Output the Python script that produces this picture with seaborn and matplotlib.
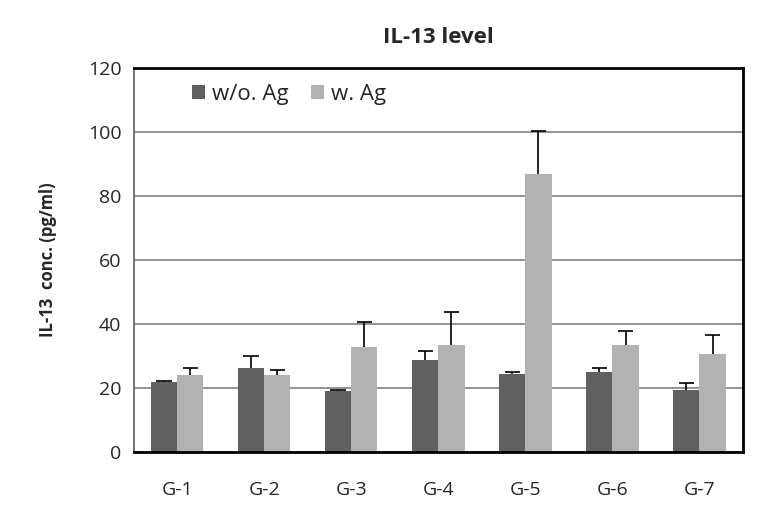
import numpy as np
import pandas as pd
import matplotlib
matplotlib.use("Agg")
import matplotlib.pyplot as plt
import seaborn as sns

groups = ["G-1", "G-2", "G-3", "G-4", "G-5", "G-6", "G-7"]
wo_ag = [21.9, 26.2, 19.1, 28.7, 24.4, 25.0, 19.3]
wo_ag_err = [0.2, 3.8, 0.2, 2.8, 0.5, 1.1, 2.4]
w_ag = [24.0, 24.0, 32.8, 33.4, 87.0, 33.4, 30.6]
w_ag_err = [2.1, 1.5, 7.8, 10.2, 13.2, 4.3, 5.9]
series = ["w/o. Ag", "w. Ag"]

df = pd.DataFrame({
    "group": groups * 2,
    "value": wo_ag + w_ag,
    "series": [series[0]] * len(groups) + [series[1]] * len(groups),
})
errs = np.array(wo_ag_err + w_ag_err)

sns.set_style("white")
plt.rcParams["font.family"] = ["Open Sans", "DejaVu Sans"]

fig = plt.figure(figsize=(7.78, 5.15), dpi=100)
ax = fig.add_axes([0.172, 0.1223, 0.783, 0.7457])

sns.barplot(
    data=df, x="group", y="value", hue="series",
    palette={"w/o. Ag": "#606060", "w. Ag": "#b2b2b2"},
    errorbar=None, width=0.6, saturation=1, linewidth=0, ax=ax,
)

# upper-only error bars (stem + top cap), placed on the drawn bars
bars = [p for p in ax.patches if p.get_height() > 0][: len(errs)]
xs = np.array([b.get_x() + b.get_width() / 2 for b in bars])
hs = np.array([b.get_height() for b in bars])
cap = bars[0].get_width() * 0.3
ax.vlines(xs, hs, hs + errs, color="black", linewidth=1.2, zorder=3)
ax.hlines(hs + errs, xs - cap, xs + cap, color="black", linewidth=1.2, zorder=3)

ax.set_ylim(0, 120)
ax.set_yticks(range(0, 121, 20))
ax.yaxis.grid(True, color="#808080", linewidth=1.2)
ax.set_axisbelow(True)
ax.set_xlim(-0.5, len(groups) - 0.5)

# category boundaries as tick marks, labels centred
ax.set_xticks(np.arange(-0.5, len(groups), 1.0))
ax.set_xticklabels([])
ax.set_xticks(range(len(groups)), minor=True)
ax.set_xticklabels(groups, minor=True, fontsize=14)
ax.tick_params(axis="x", which="major", direction="out", length=6, color="#808080")
ax.tick_params(axis="x", which="minor", length=0, pad=21)
ax.tick_params(axis="y", direction="out", length=5, color="#808080", labelsize=14, pad=4)

for side in ["top", "right", "bottom"]:
    ax.spines[side].set_color("black")
    ax.spines[side].set_linewidth(2)
ax.spines["left"].set_color("#606060")
ax.spines["left"].set_linewidth(1.2)

ax.set_xlabel("")
ax.set_ylabel("IL-13  conc. (pg/ml)", fontsize=12, fontweight="bold", labelpad=22)
ax.set_title("IL-13 level", fontsize=16, fontweight="bold", pad=18)

ax.legend(loc="upper left", bbox_to_anchor=(0.07, 1.0), ncol=2, frameon=False,
          fontsize=16, handlelength=0.6, handleheight=0.6, handletextpad=0.3,
          columnspacing=1.0, borderaxespad=0.3)

fig.savefig("out.png", dpi=100, facecolor="white")
